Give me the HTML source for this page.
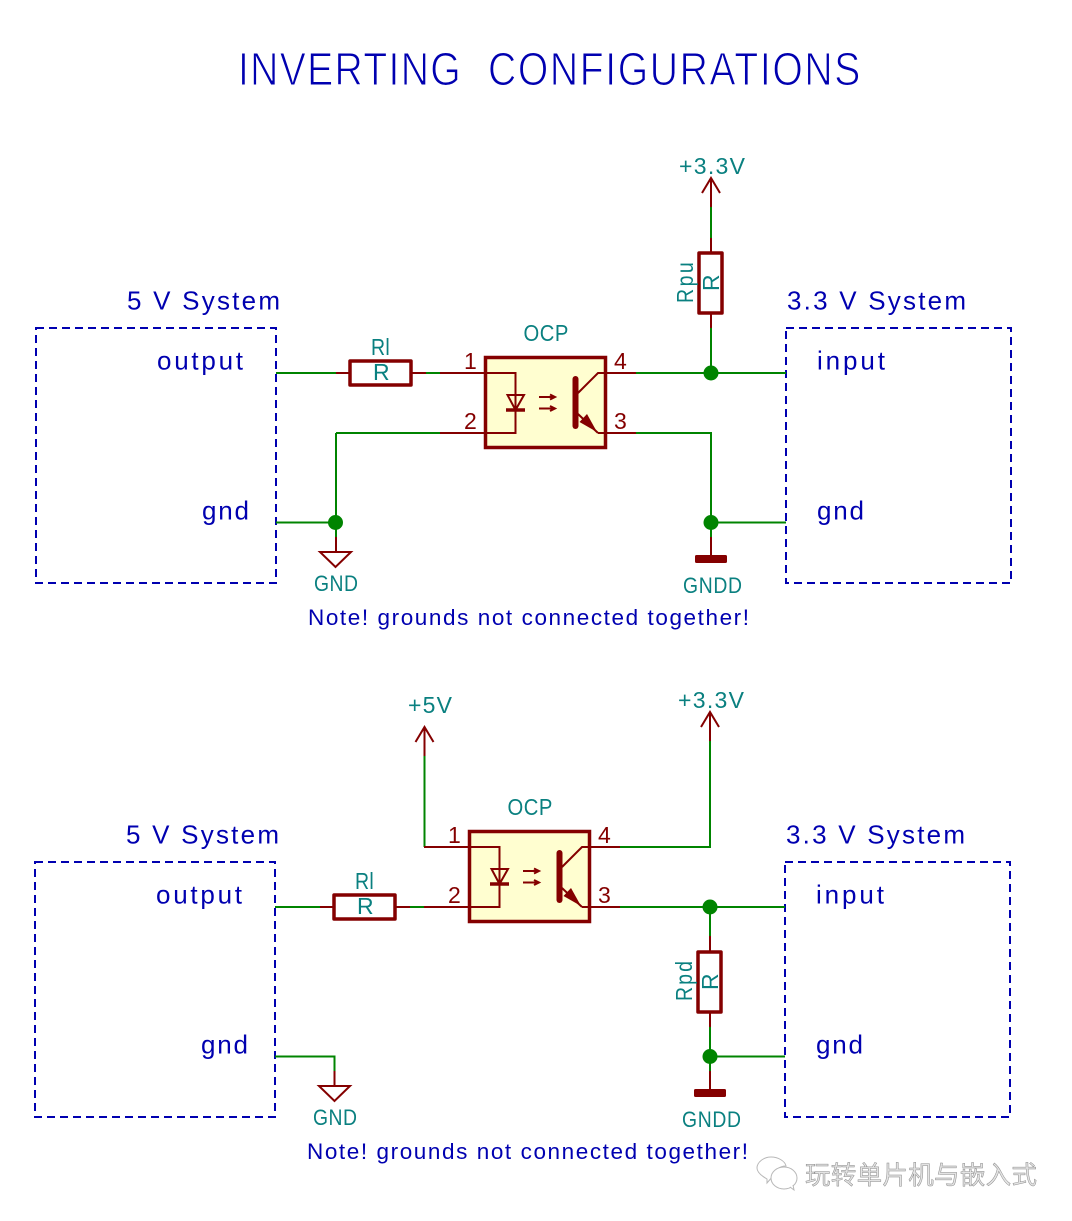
<!DOCTYPE html>
<html><head><meta charset="utf-8">
<style>
html,body{margin:0;padding:0;background:#fff}
svg{display:block}
text{font-family:"Liberation Sans","Noto Sans CJK SC",sans-serif}
.b{fill:#0000b0}.t{fill:#0a8080}.r{fill:#840000}
.w{stroke:#008400;stroke-width:2;fill:none}
.p{stroke:#840000;stroke-width:2;fill:none}
.q{stroke:#840000;stroke-width:3.5;fill:none;stroke-linejoin:round}
.d{stroke:#0000b0;stroke-width:2;fill:none;stroke-dasharray:8 5}
.j{fill:#008400}
</style></head>
<body>
<svg width="1072" height="1221" viewBox="0 0 1072 1221" xmlns="http://www.w3.org/2000/svg">
<rect width="1072" height="1221" fill="#fff"/>

<text class="b" font-size="46" stroke="#fff" stroke-width="1.100" transform="translate(238 85) scale(.85 1)" textLength="262" lengthAdjust="spacing">INVERTING</text>
<text class="b" font-size="46" stroke="#fff" stroke-width="1.100" transform="translate(488 85) scale(.85 1)" textLength="438" lengthAdjust="spacing">CONFIGURATIONS</text>

<!-- TOP CIRCUIT -->
<rect class="d" x="36" y="328" width="240" height="255"/>
<rect class="d" x="786" y="328" width="225" height="255"/>
<text class="b" x="127" y="309.500" font-size="26" textLength="153" lengthAdjust="spacing">5 V System</text>
<text class="b" x="787" y="309.500" font-size="26" textLength="179" lengthAdjust="spacing">3.3 V System</text>
<text class="b" x="157" y="369.500" font-size="26" textLength="86" lengthAdjust="spacing">output</text>
<text class="b" x="202" y="519.500" font-size="26" textLength="47" lengthAdjust="spacing">gnd</text>
<text class="b" x="817" y="369.500" font-size="26" textLength="68" lengthAdjust="spacing">input</text>
<text class="b" x="817" y="519.500" font-size="26" textLength="47" lengthAdjust="spacing">gnd</text>

<path class="w" d="M276 373H336M426 373H441M636 373H786M711 373V328M711 238V207M336 433H441M336 433V537M276 522.500H336M636 433H711V537M711 522.500H786"/>
<path class="p" d="M336 373H350M411 373H426M711 328V313M711 253V238M711 207V178M702 193L711 178L720 193M336 537V552M711 537V555"/>
<rect class="q" x="350" y="361" width="61" height="24" fill="#fff"/>
<rect class="q" x="699" y="253" width="23" height="60"/>
<path class="p" d="M320 552H351L335.500 567Z" fill="#fff"/>
<rect x="695" y="555" width="32" height="8" rx="1.500" fill="#840000"/>
<circle class="j" cx="711" cy="373" r="7.500"/>
<circle class="j" cx="711" cy="522.500" r="7.500"/>
<circle class="j" cx="335.500" cy="522.500" r="7.500"/>

<!-- top opto -->
<rect x="485.500" y="357.500" width="120" height="90" fill="#fffed0" stroke="#840000" stroke-width="3.500"/>
<path class="p" d="M440 373H515.500V433H440M507.500 395H524L515.500 410ZM539 397H555M539 408.500H555M550 394.500L555 397L550 399.500M550 406L555 408.500L550 411M578 393L598 373H636M598 433H636"/>
<path d="M506 410H525" stroke="#840000" stroke-width="3.500"/>
<path d="M575.500 379V426" stroke="#840000" stroke-width="6" stroke-linecap="round"/>
<path d="M578 414L598 433" stroke="#840000" stroke-width="2"/>
<path d="M597 432L579.500 422L587 414Z" fill="#840000"/>

<text class="r" x="464" y="369" font-size="23">1</text>
<text class="r" x="464" y="429" font-size="23">2</text>
<text class="r" x="614" y="369" font-size="23">4</text>
<text class="r" x="614" y="429" font-size="23">3</text>
<text class="t" font-size="23" transform="translate(523.500 341) scale(.88 1)" textLength="51" lengthAdjust="spacing">OCP</text>
<text class="t" font-size="23" transform="translate(371 355) scale(.85 1)" textLength="22" lengthAdjust="spacing">Rl</text>
<text class="t" x="373" y="380" font-size="23">R</text>
<text class="t" x="679" y="174" font-size="23" textLength="66" lengthAdjust="spacing">+3.3V</text>
<text class="t" font-size="23" transform="translate(719 291) rotate(-90)">R</text>
<text class="t" font-size="23" transform="translate(693 303) rotate(-90) scale(.85 1)" textLength="48" lengthAdjust="spacing">Rpu</text>
<text class="t" font-size="22" transform="translate(314 591) scale(.88 1)" textLength="50" lengthAdjust="spacing">GND</text>
<text class="t" font-size="22" transform="translate(683 593) scale(.88 1)" textLength="67" lengthAdjust="spacing">GNDD</text>
<text class="b" x="308" y="625" font-size="22.500" textLength="441" lengthAdjust="spacing">Note! grounds not connected together!</text>

<!-- BOTTOM CIRCUIT -->
<rect class="d" x="35" y="862" width="240" height="255"/>
<rect class="d" x="785" y="862" width="225" height="255"/>
<text class="b" x="126" y="843.500" font-size="26" textLength="153" lengthAdjust="spacing">5 V System</text>
<text class="b" x="786" y="843.500" font-size="26" textLength="179" lengthAdjust="spacing">3.3 V System</text>
<text class="b" x="156" y="903.500" font-size="26" textLength="86" lengthAdjust="spacing">output</text>
<text class="b" x="201" y="1053.500" font-size="26" textLength="47" lengthAdjust="spacing">gnd</text>
<text class="b" x="816" y="903.500" font-size="26" textLength="68" lengthAdjust="spacing">input</text>
<text class="b" x="816" y="1053.500" font-size="26" textLength="47" lengthAdjust="spacing">gnd</text>

<path class="w" d="M275 907H320M410 907H425M424.500 847V756M620 847H710V741M620 907H785M710 907V936M710 1027V1071M710 1056.500H785M275 1056.500H334.500V1071"/>
<path class="p" d="M320 907H334M395 907H410M424 847H469M424 907H469M424.500 756V727M415.500 742L424.500 727L433.500 742M710 741V712M701 727L710 712L719 727M710 936V951M710 1012V1027M710 1071V1089M334.500 1071V1086"/>
<rect class="q" x="334" y="895" width="61" height="24"/>
<rect class="q" x="698" y="952" width="23" height="60"/>
<path class="p" d="M319 1086H350L334.500 1101Z" fill="#fff"/>
<rect x="694" y="1089" width="32" height="8" rx="1.500" fill="#840000"/>
<circle class="j" cx="710" cy="907" r="7.500"/>
<circle class="j" cx="710" cy="1056.500" r="7.500"/>

<!-- bottom opto -->
<rect x="469.500" y="831.500" width="120" height="90" fill="#fffed0" stroke="#840000" stroke-width="3.500"/>
<path class="p" d="M424 847H499.500V907H424M491.500 869H508L499.500 884ZM523 871H539M523 882.500H539M534 868.500L539 871L534 873.500M534 880L539 882.500L534 885M562 867L582 847H620M582 907H620"/>
<path d="M490 884H509" stroke="#840000" stroke-width="3.500"/>
<path d="M559.500 853V900" stroke="#840000" stroke-width="6" stroke-linecap="round"/>
<path d="M562 888L582 907" stroke="#840000" stroke-width="2"/>
<path d="M581 906L563.500 896L571 888Z" fill="#840000"/>

<text class="r" x="448" y="843" font-size="23">1</text>
<text class="r" x="448" y="903" font-size="23">2</text>
<text class="r" x="598" y="843" font-size="23">4</text>
<text class="r" x="598" y="903" font-size="23">3</text>
<text class="t" font-size="23" transform="translate(507.500 815) scale(.88 1)" textLength="51" lengthAdjust="spacing">OCP</text>
<text class="t" font-size="23" transform="translate(355 889) scale(.85 1)" textLength="22" lengthAdjust="spacing">Rl</text>
<text class="t" x="357" y="914" font-size="23">R</text>
<text class="t" x="678" y="708" font-size="23" textLength="66" lengthAdjust="spacing">+3.3V</text>
<text class="t" x="408" y="713" font-size="23" textLength="44" lengthAdjust="spacing">+5V</text>
<text class="t" font-size="23" transform="translate(718 990) rotate(-90)">R</text>
<text class="t" font-size="23" transform="translate(692 1001) rotate(-90) scale(.85 1)" textLength="47" lengthAdjust="spacing">Rpd</text>
<text class="t" font-size="22" transform="translate(313 1125) scale(.88 1)" textLength="50" lengthAdjust="spacing">GND</text>
<text class="t" font-size="22" transform="translate(682 1127) scale(.88 1)" textLength="67" lengthAdjust="spacing">GNDD</text>
<text class="b" x="307" y="1159" font-size="22.500" textLength="441" lengthAdjust="spacing">Note! grounds not connected together!</text>

<!-- watermark -->
<g fill="#fff" stroke="#b8b8b8" stroke-width="1">
<path d="M767 1179C760 1175 757 1171 757 1168C757 1162 764 1157 771 1157C778 1157 785 1161 786 1166C780 1166 774 1170 773 1176L767 1183Z"/>
<ellipse cx="784" cy="1178" rx="13" ry="11"/>
<path d="M790 1187L794 1190L793 1185" />
</g>
<text x="805" y="1184" font-size="25.500" fill="#e4e4e4" stroke="#8a8a8a" stroke-width=".5" textLength="232" lengthAdjust="spacing">玩转单片机与嵌入式</text>
</svg>
</body></html>
